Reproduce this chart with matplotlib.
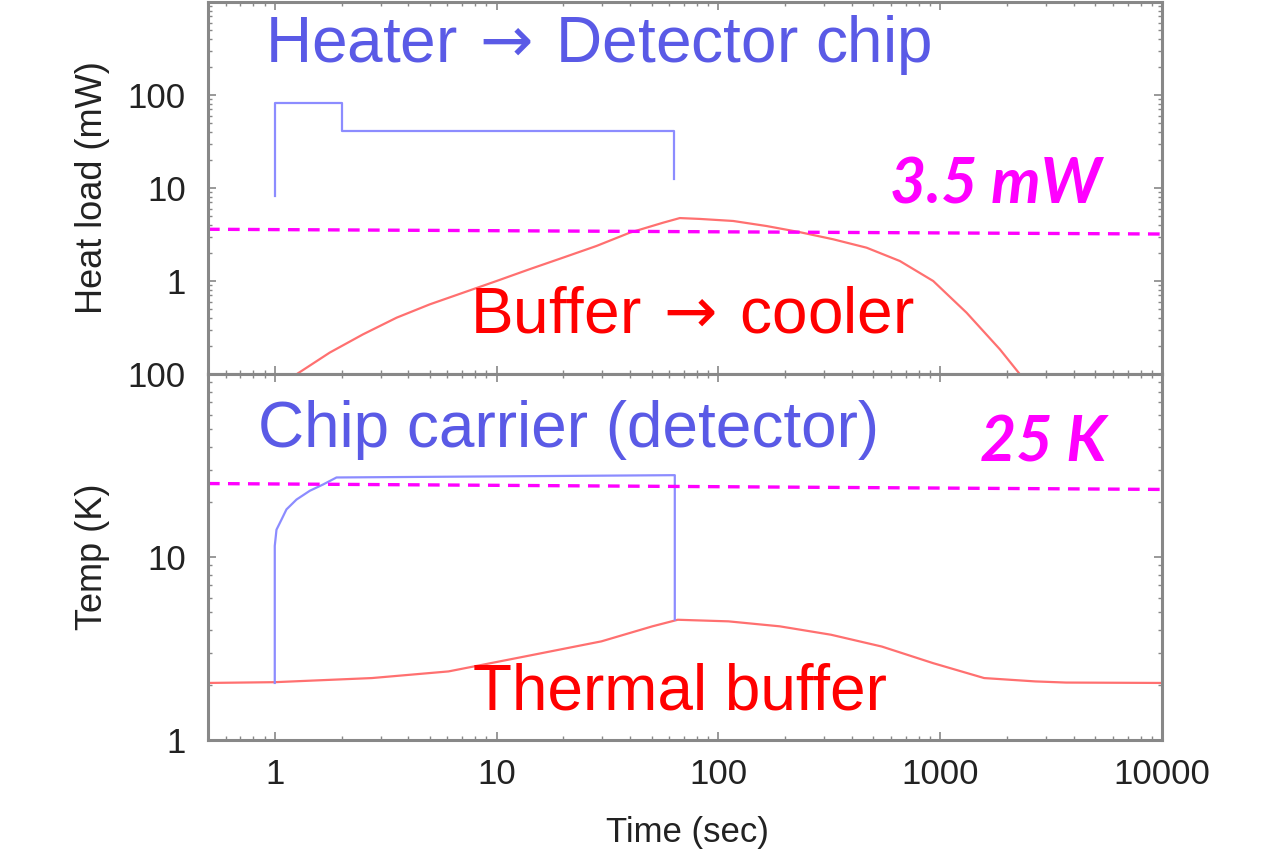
import numpy as np
import matplotlib.pyplot as plt
from matplotlib.ticker import LogLocator, FixedLocator, NullFormatter

# heater power into detector chip (mW)
heater_t = [1.0, 1.0, 2.0, 2.0, 63.0, 63.0]
heater_P = [8.2, 82, 82, 41, 41, 12.5]

# heat flow buffer -> cooler (mW)
buf_t = [1.253, 1.77, 2.50, 3.54, 5.00, 7.06, 10.0, 14.1, 19.9, 28.2, 39.9, 56.4, 67.0,
         82.5, 116.6, 164.9, 233, 329, 466, 658, 930, 1315, 1859, 2290]
buf_P = [0.0993, 0.170, 0.267, 0.403, 0.561, 0.748, 1.0, 1.34, 1.78, 2.38, 3.31, 4.24, 4.75,
         4.65, 4.42, 3.90, 3.35, 2.81, 2.28, 1.64, 1.0, 0.456, 0.184, 0.099]

# chip carrier temperature (K)
chip_t = [1.0, 1.0, 1.0, 1.018, 1.072, 1.129, 1.253, 1.438, 1.651, 1.898, 63.6, 63.6]
chip_T = [2.05, 8.0, 11.5, 14.1, 16.0, 18.2, 20.6, 23.0, 24.9, 27.2, 28.0, 4.55]

# thermal buffer temperature (K)
tb_t = [0.5, 1.0, 2.74, 6.07, 13.4, 29.7, 50.4, 65.6, 111, 189, 322, 546, 929, 1578, 2681, 3690, 10000]
tb_T = [2.05, 2.07, 2.18, 2.37, 2.86, 3.46, 4.18, 4.54, 4.45, 4.18, 3.76, 3.24, 2.63, 2.18, 2.09, 2.06, 2.05]

# limits
lim_t = [0.5, 10000]
lim_P = [3.6, 3.2]
lim_T = [25.2, 23.4]

x_ticks = [1, 10, 100, 1000, 10000]
x_labels = ['1', '10', '100', '1000', '10000']
y_ticks = [1, 10, 100]
y_labels = ['1', '10', '100']

BLUE_TXT = '#5a5ae6'
BLUE_LN = '#8c8cff'
RED_LN = '#ff7070'
GREY = '#888888'
DARK = '#222222'
TXTFONT = ['Liberation Sans', 'DejaVu Sans']
plt.rcParams['mathtext.fontset'] = 'dejavusans'

fig = plt.figure(figsize=(12.73, 8.55), dpi=100)
left, right = 208 / 1273, 1162 / 1273
ax1 = fig.add_axes([left, 1 - 374 / 855, right - left, (374 - 2) / 855])
ax2 = fig.add_axes([left, 1 - 740 / 855, right - left, (740 - 374) / 855])

for ax in (ax1, ax2):
    ax.set_xscale('log')
    ax.set_yscale('log')
    ax.set_xlim(0.5, 10000)
    for s in ax.spines.values():
        s.set_color(GREY)
        s.set_linewidth(2.2)
    ax.tick_params(which='both', direction='in', top=True, right=True, color=GREY)
    ax.tick_params(which='major', length=6, width=1.2)
    ax.tick_params(which='minor', length=3, width=1)
    ax.xaxis.set_major_locator(FixedLocator(x_ticks))
    ax.xaxis.set_minor_locator(LogLocator(base=10, subs=np.arange(2, 10)))
    ax.yaxis.set_minor_locator(LogLocator(base=10, subs=np.arange(2, 10)))
    ax.yaxis.set_minor_formatter(NullFormatter())
    ax.xaxis.set_minor_formatter(NullFormatter())
    ax.yaxis.set_major_locator(FixedLocator(y_ticks))
    ax.set_yticklabels(y_labels, family=TXTFONT, fontsize=25, color=DARK)
    ax.tick_params(axis='y', pad=16)

# top panel
ax1.set_ylim(0.1, 1000)
ax1.set_xticklabels([])
ax1.plot(heater_t, heater_P, color=BLUE_LN, lw=1.6)
ax1.plot(buf_t, buf_P, color=RED_LN, lw=1.6)
ax1.plot(lim_t, lim_P, color='#ff00ff', lw=2.4, dashes=(3.5, 2.5))
ax1.set_ylabel('Heat load (mW)', family=TXTFONT, fontsize=26, color=DARK)
ax1.yaxis.set_label_coords(-0.103, 0.5)
ax1.text(0.9, 226, 'Heater$\\,\\rightarrow\\,$Detector chip', color=BLUE_TXT, fontsize=46,
         family=TXTFONT, ha='left', va='baseline')
ax1.text(593, 6.73, '3.5 mW', color='#ff00ff', fontsize=45, family=['Lato', 'DejaVu Sans'],
         fontweight='bold', fontstyle='italic', ha='left', va='baseline')
ax1.text(7.6, 0.276, 'Buffer$\\,\\rightarrow\\,$cooler', color='#ff0000', fontsize=46,
         family=TXTFONT, ha='left', va='baseline')

# bottom panel
ax2.set_ylim(1, 100)
ax2.set_xticklabels(x_labels, family=TXTFONT, fontsize=25, color=DARK)
ax2.tick_params(axis='x', pad=13)
ax2.plot(tb_t, tb_T, color=RED_LN, lw=1.6)
ax2.plot(chip_t, chip_T, color=BLUE_LN, lw=1.6)
ax2.plot(lim_t, lim_T, color='#ff00ff', lw=2.4, dashes=(3.5, 2.5))
ax2.set_ylabel('Temp (K)', family=TXTFONT, fontsize=26, color=DARK)
ax2.yaxis.set_label_coords(-0.103, 0.5)
ax2.set_xlabel('Time (sec)', family=TXTFONT, fontsize=25, color=DARK)
ax2.xaxis.set_label_coords(0.503, -0.208)
ax2.text(0.838, 39.8, 'Chip carrier (detector)', color=BLUE_TXT, fontsize=46,
         family=TXTFONT, ha='left', va='baseline')
ax2.text(1511, 33.4, '25 K', color='#ff00ff', fontsize=45, family=['Lato', 'DejaVu Sans'],
         fontweight='bold', fontstyle='italic', ha='left', va='baseline')
ax2.text(7.8, 1.46, 'Thermal buffer', color='#ff0000', fontsize=46,
         family=TXTFONT, ha='left', va='baseline')

fig.savefig('out.png', dpi=100)
